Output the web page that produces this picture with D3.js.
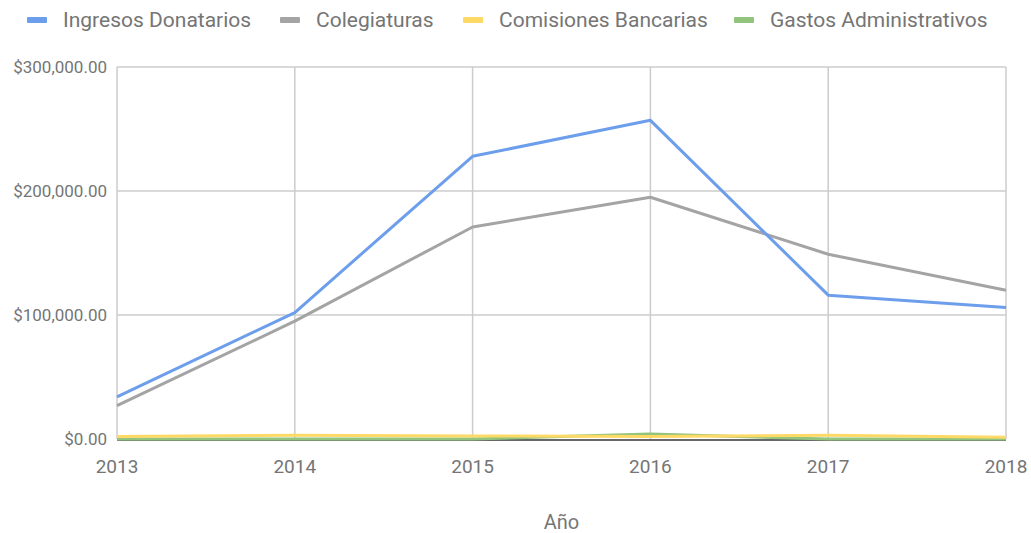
<!DOCTYPE html>
<html>
<head>
<meta charset="utf-8">
<script src="https://cdn.jsdelivr.net/npm/d3@7"></script>
<style>
  body { margin: 0; background: #fff; }
  text { font-family: Roboto, "Noto Sans", sans-serif; fill: #757575; }
</style>
</head>
<body>
<script>
var years = [2013, 2014, 2015, 2016, 2017, 2018];
var seriesNames = ["Ingresos Donatarios", "Colegiaturas", "Comisiones Bancarias", "Gastos Administrativos"];
var seriesColors = ["#6d9eeb", "#a4a4a4", "#ffd966", "#93c47d"];
var ingresos = [34000, 102000, 228000, 257000, 116000, 106000];
var colegiaturas = [27000, 95000, 171000, 195000, 149000, 120000];
var comisiones = [2000, 3000, 2500, 2000, 3000, 1500];
var gastos = [0, 0, 0, 4000, 0, 0];
var yTicks = [0, 100000, 200000, 300000];

var allSeries = [ingresos, colegiaturas, comisiones, gastos];

var width = 1031, height = 533;
var margin = {top: 67, right: 25, bottom: 94, left: 117};

var svg = d3.select("body").append("svg")
    .attr("width", width)
    .attr("height", height);

var x = d3.scaleLinear()
    .domain([2013, 2018])
    .range([margin.left, width - margin.right]);

var y = d3.scaleLinear()
    .domain([0, 300000])
    .range([height - margin.bottom, margin.top]);

// grid
svg.append("g").selectAll("line.h")
    .data(yTicks.slice(1))
    .enter().append("line")
    .attr("x1", x(2013)).attr("x2", x(2018))
    .attr("y1", function(d) { return y(d); })
    .attr("y2", function(d) { return y(d); })
    .style("stroke", "#cccccc").style("stroke-width", 1.5);

svg.append("g").selectAll("line.v")
    .data(years)
    .enter().append("line")
    .attr("x1", function(d) { return x(d); })
    .attr("x2", function(d) { return x(d); })
    .attr("y1", y(300000)).attr("y2", y(0))
    .style("stroke", "#cccccc").style("stroke-width", 1.5);

// y labels
svg.append("g").selectAll("text")
    .data(yTicks)
    .enter().append("text")
    .attr("x", margin.left - 10)
    .attr("y", function(d) { return y(d); })
    .attr("dy", "0.35em")
    .style("text-anchor", "end")
    .style("font-size", "17px")
    .text(function(d) { return "$" + d3.format(",.2f")(d); });

// x labels
svg.append("g").selectAll("text")
    .data(years)
    .enter().append("text")
    .attr("x", function(d) { return x(d); })
    .attr("y", y(0) + 34)
    .style("text-anchor", "middle")
    .style("font-size", "19px")
    .text(function(d) { return d; });

svg.append("text")
    .attr("x", (x(2013) + x(2018)) / 2)
    .attr("y", 529)
    .style("text-anchor", "middle")
    .style("font-size", "20px")
    .text("Año");

// lines
var line = d3.line()
    .x(function(d, i) { return x(years[i]); })
    .y(function(d) { return y(d); });

// baseline
svg.append("line")
    .attr("x1", x(2013)).attr("x2", x(2018))
    .attr("y1", y(0) + 1).attr("y2", y(0) + 1)
    .style("stroke", "#333").style("stroke-width", 1.5);

[3, 2, 1, 0].forEach(function(k) {
  svg.append("path")
      .datum(allSeries[k])
      .attr("d", line)
      .style("fill", "none")
      .style("stroke", seriesColors[k])
      .style("stroke-width", 3)
      .style("stroke-linejoin", "round");
});

// legend
var legendX = [27, 280, 463, 734];
var lg = svg.append("g").selectAll("g")
    .data(seriesNames)
    .enter().append("g")
    .attr("transform", function(d, i) { return "translate(" + legendX[i] + ",20)"; });

lg.append("rect")
    .attr("x", 0).attr("y", -3)
    .attr("width", 20).attr("height", 6)
    .attr("rx", 1)
    .style("fill", function(d, i) { return seriesColors[i]; });

lg.append("text")
    .attr("x", 36)
    .attr("dy", "0.35em")
    .style("font-size", "21px")
    .text(function(d) { return d; });
</script>
</body>
</html>
